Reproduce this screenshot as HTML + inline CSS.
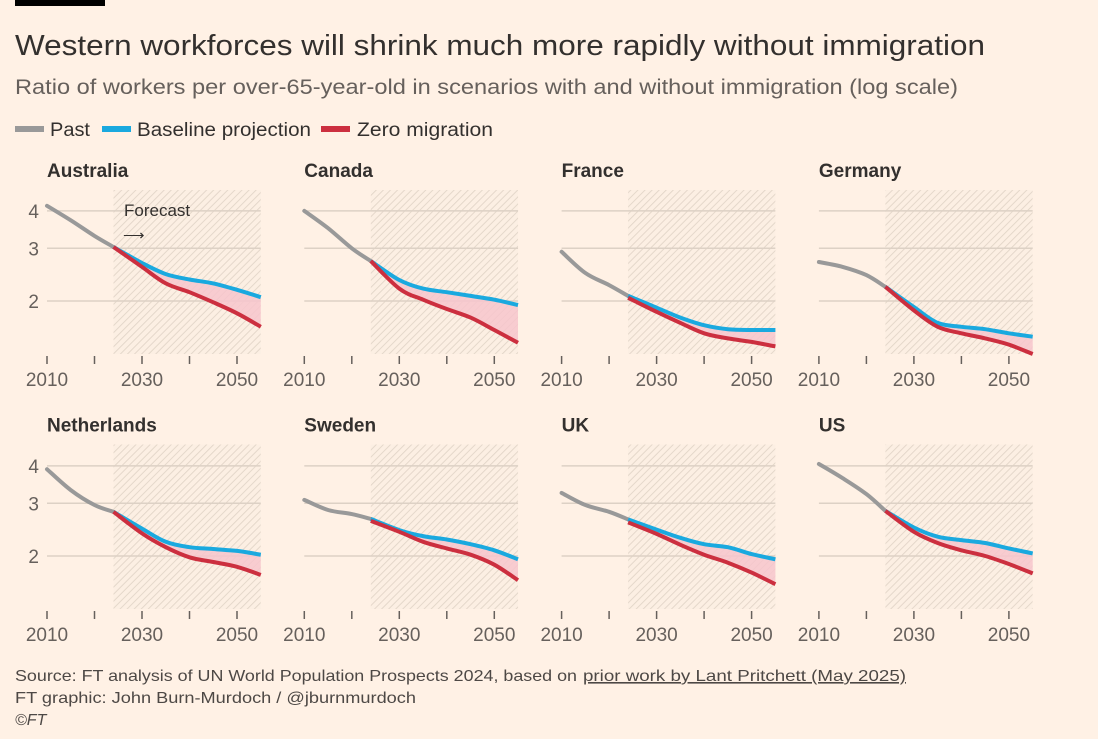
<!DOCTYPE html>
<html><head><meta charset="utf-8"><style>
html,body{margin:0;padding:0;background:#fff1e5;}
svg{display:block;font-family:"Liberation Sans",sans-serif;}
</style></head><body>
<svg id="chart" width="1098" height="739" viewBox="0 0 1098 739" xmlns="http://www.w3.org/2000/svg">
<defs>
<pattern id="hatch" patternUnits="userSpaceOnUse" width="5" height="5" patternTransform="rotate(45)">
<rect width="5" height="5" fill="#fcefe3"/>
<line x1="0" y1="0" x2="0" y2="5" stroke="#e2d5c8" stroke-width="1.8"/>
</pattern>
</defs>
<rect x="0" y="0" width="1098" height="739" fill="#fff1e5"/>
<rect x="15" y="0" width="90" height="6" fill="#000"/>
<text x="15" y="55" font-size="29" fill="#33302e" textLength="970" lengthAdjust="spacingAndGlyphs">Western workforces will shrink much more rapidly without immigration</text>
<text x="15" y="94" font-size="21" fill="#66605c" textLength="943" lengthAdjust="spacingAndGlyphs">Ratio of workers per over-65-year-old in scenarios with and without immigration (log scale)</text>
<g>
<rect x="15" y="126" width="29" height="6" fill="#999999"/>
<text x="50" y="136" font-size="19" fill="#33302e" textLength="40" lengthAdjust="spacingAndGlyphs">Past</text>
<rect x="102" y="126" width="29" height="6" fill="#1aa9df"/>
<text x="137" y="136" font-size="19" fill="#33302e" textLength="174" lengthAdjust="spacingAndGlyphs">Baseline projection</text>
<rect x="321" y="126" width="29" height="6" fill="#cc2f3f"/>
<text x="357" y="136" font-size="19" fill="#33302e" textLength="136" lengthAdjust="spacingAndGlyphs">Zero migration</text>
</g>
<g id="panels"></g>
<text x="15" y="681" font-size="16" fill="#4d4845" textLength="562" lengthAdjust="spacingAndGlyphs">Source: FT analysis of UN World Population Prospects 2024, based on</text>
<text x="583" y="681" font-size="16" fill="#4d4845" text-decoration="underline" textLength="323" lengthAdjust="spacingAndGlyphs">prior work by Lant Pritchett (May 2025)</text>
<text x="15" y="703" font-size="16" fill="#4d4845" textLength="401" lengthAdjust="spacingAndGlyphs">FT graphic: John Burn-Murdoch / @jburnmurdoch</text>
<text x="15" y="725" font-size="16" fill="#4d4845" font-style="italic">©FT</text>
</svg>
<script>
const countries = ["Australia","Canada","France","Germany","Netherlands","Sweden","UK","US"];
const pastYears = [2010,2015,2020,2024];
const forecastYears = [2024,2030,2035,2040,2045,2050,2055];
const pastValues = [
 [4.16,3.72,3.3,3.03],
 [4.0,3.5,3.0,2.72],
 [2.92,2.48,2.26,2.08],
 [2.70,2.6,2.44,2.23],
 [3.9,3.32,2.96,2.81],
 [3.08,2.85,2.76,2.66],
 [3.25,2.96,2.81,2.65],
 [4.06,3.64,3.22,2.83]
];
const baselineValues = [
 [3.03,2.68,2.46,2.36,2.29,2.18,2.06],
 [2.72,2.35,2.2,2.14,2.08,2.02,1.94],
 [2.08,1.9,1.76,1.66,1.61,1.6,1.6],
 [2.23,1.91,1.69,1.64,1.61,1.56,1.52],
 [2.81,2.47,2.23,2.14,2.11,2.08,2.02],
 [2.66,2.44,2.33,2.27,2.19,2.09,1.95],
 [2.65,2.45,2.3,2.19,2.14,2.03,1.95],
 [2.83,2.49,2.32,2.26,2.21,2.12,2.04]
];
const zeroValues = [
 [3.03,2.6,2.29,2.14,1.98,1.82,1.64],
 [2.72,2.2,2.02,1.88,1.76,1.6,1.45],
 [2.05,1.84,1.69,1.56,1.5,1.46,1.41],
 [2.23,1.86,1.64,1.56,1.5,1.43,1.33],
 [2.81,2.38,2.14,1.98,1.91,1.84,1.73],
 [2.62,2.41,2.23,2.12,2.02,1.87,1.66],
 [2.59,2.37,2.18,2.02,1.9,1.76,1.61],
 [2.83,2.41,2.21,2.09,2.0,1.88,1.75]
];
const yTicks = [2,3,4];
const xTicks = [2010,2020,2030,2040,2050];
const xTickLabels = [2010,2030,2050];
const forecastStart = 2024;

const NS="http://www.w3.org/2000/svg";
const root=document.getElementById('panels');
function mk(tag,attrs,parent){const e=document.createElementNS(NS,tag);for(const k in attrs)e.setAttribute(k,attrs[k]);(parent||root).appendChild(e);return e;}
function smooth(pts){
 let d="M"+pts[0][0].toFixed(1)+","+pts[0][1].toFixed(1);
 for(let i=0;i<pts.length-1;i++){
  const p0=pts[Math.max(0,i-1)],p1=pts[i],p2=pts[i+1],p3=pts[Math.min(pts.length-1,i+2)];
  const c1=[p1[0]+(p2[0]-p0[0])/6,p1[1]+(p2[1]-p0[1])/6];
  const c2=[p2[0]-(p3[0]-p1[0])/6,p2[1]-(p3[1]-p1[1])/6];
  d+=" C"+c1[0].toFixed(1)+","+c1[1].toFixed(1)+" "+c2[0].toFixed(1)+","+c2[1].toFixed(1)+" "+p2[0].toFixed(1)+","+p2[1].toFixed(1);
 }
 return d;
}
countries.forEach((name,i)=>{
 const col=i%4,row=Math.floor(i/4);
 const x0=47+col*257.3, y2=301+row*255;
 const xs=yr=>x0+(yr-2010)*4.75;
 const ys=v=>y2-Math.log(v/2)*130;
 const top=190+row*254.5, bot=354+row*255;
 const g=mk('g',{});
 
 
 const t=mk('text',{x:x0,y:top-13,'font-size':19,fill:'#33302e','font-weight':'bold'},g);
 
 
 t.textContent=name;
 const h=mk('rect',{x:xs(forecastStart),y:top,width:xs(2055)-xs(forecastStart),height:bot-top,fill:'url(#hatch)'},g);
 
 
 yTicks.forEach(v=>{
  const l=mk('line',{x1:x0,x2:xs(2055),y1:ys(v),y2:ys(v),stroke:'#ddd1c5','stroke-width':1.5},g);
  
  
  if(col===0){
   const tl=mk('text',{x:39,y:ys(v)+7,'font-size':19,fill:'#66605c','text-anchor':'end'},g);
   
   
   tl.textContent=v;
  }
 });
 xTicks.forEach(yr=>{
  const tk=mk('line',{x1:xs(yr),x2:xs(yr),y1:bot+2,y2:bot+10,stroke:'#66605c','stroke-width':1.5},g);
  
  
 });
 xTickLabels.forEach(yr=>{
  const tl=mk('text',{x:xs(yr),y:bot+32,'font-size':19,fill:'#66605c','text-anchor':'middle'},g);
  
  
  tl.textContent=yr;
 });
 const bp=forecastYears.map((yr,j)=>[xs(yr),ys(baselineValues[i][j])]);
 const zp=forecastYears.map((yr,j)=>[xs(yr),ys(zeroValues[i][j])]);
 const zr=zp.slice().reverse();
 let dz=smooth(zr);
 const area=mk('path',{d:smooth(bp)+" L"+dz.slice(1)+" Z",fill:'#f7c6cc',opacity:0.85},g);
 
 
 const pp=pastYears.map((yr,j)=>[xs(yr),ys(pastValues[i][j])]);
 const pl=mk('path',{d:smooth(pp),fill:'none',stroke:'#999999','stroke-width':4,'stroke-linecap':'round'},g);
 
 
 const bl=mk('path',{d:smooth(bp),fill:'none',stroke:'#1aa9df','stroke-width':4},g);
 
 
 const zl=mk('path',{d:smooth(zp),fill:'none',stroke:'#cc2f3f','stroke-width':4},g);
 
 
 if(i===0){
  const f=mk('text',{x:124,y:216,'font-size':17,fill:'#33302e'},g);
  
  
  f.textContent='Forecast';
  const a=mk('text',{x:123,y:240,'font-size':15,fill:'#33302e'},g);
  
  
  a.textContent='⟶';
 }
});
</script>
</body></html>
